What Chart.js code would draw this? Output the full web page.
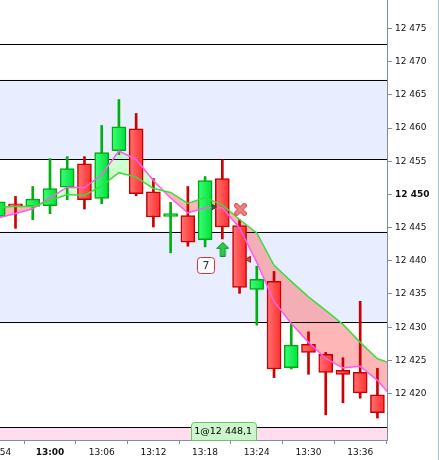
<!DOCTYPE html>
<html>
<head>
<meta charset="utf-8">
<script src="https://cdn.jsdelivr.net/npm/chart.js@4.4.0/dist/chart.umd.min.js"></script>
<style>
body { margin: 0; background: #fff; }
</style>
</head>
<body>
<canvas id="myChart" width="439" height="460"></canvas>
<script>
// 2 minute candles
const times = ['12:54', '12:56', '12:58', '13:00', '13:02', '13:04', '13:06', '13:08', '13:10', '13:12', '13:14', '13:16',
    '13:18', '13:20', '13:22', '13:24', '13:26', '13:28', '13:30', '13:32', '13:34', '13:36', '13:38'];
const opens = [12446.7, 12448.6, 12448.2, 12448.3, 12451.1, 12454.6, 12449.4, 12456.6, 12459.9, 12450.4, 12446.7, 12446.8,
    12443.2, 12452.4, 12445.3, 12435.7, 12436.9, 12423.9, 12427.4, 12425.9, 12423.5, 12423.2, 12419.8];
const highs = [12449.3, 12449.7, 12451.2, 12455.4, 12455.7, 12455.7, 12460.4, 12464.3, 12462.2, 12452.4, 12448.8, 12451.2,
    12452.7, 12455.2, 12446.2, 12439.2, 12438.4, 12430.5, 12429.3, 12426.2, 12425.4, 12433.9, 12423.8];
const lows = [12446.3, 12444.9, 12446.2, 12447.1, 12449.2, 12447.8, 12448.6, 12456.0, 12449.8, 12445.1, 12441.2, 12442.2,
    12442.1, 12443.3, 12435.1, 12430.3, 12422.4, 12423.7, 12422.9, 12416.8, 12418.6, 12419.3, 12416.3];
const closes = [12448.9, 12448.2, 12449.3, 12450.9, 12453.9, 12449.2, 12456.3, 12460.2, 12450.1, 12446.6, 12447.1, 12442.8,
    12452.1, 12445.1, 12436.0, 12437.2, 12423.7, 12427.3, 12426.2, 12423.2, 12422.9, 12420.1, 12417.1];

// averages (one extra point past the last candle)
const maTimes = times.concat(['13:40']);
const greenLine = [12448.12, 12448.19, 12448.19, 12449.10, 12450.00, 12449.85, 12451.28, 12453.28, 12452.61, 12450.90, 12450.30, 12448.64,
    12449.55, 12448.42, 12446.23, 12444.20, 12439.31, 12436.90, 12434.56, 12432.53, 12430.42, 12427.71, 12425.23, 12424.37];
const pinkLine = [12446.46, 12447.14, 12447.85, 12449.47, 12451.10, 12451.01, 12452.97, 12456.55, 12455.27, 12452.11, 12449.47, 12447.21,
    12448.00, 12448.00, 12444.95, 12439.76, 12433.89, 12430.57, 12427.71, 12425.30, 12423.87, 12424.10, 12421.99, 12419.02];

const xTickLabels = ['12:54', '13:00', '13:06', '13:12', '13:18', '13:24', '13:30', '13:36'];
const yTickValues = [12420, 12425, 12430, 12435, 12440, 12445, 12450, 12455, 12460, 12465, 12470, 12475];

const levelLines = [12472.7, 12467.3, 12455.3, 12444.4, 12430.8, 12414.9];
const blueBands = [[12455.3, 12467.3], [12430.8, 12444.4]];
const pinkBand = [12413.0, 12414.9];

const crossMark = { t: '13:22:05', v: 12447.73 };
const arrowMark = { t: '13:20:03', v: 12441.74 };
const leftTriMark = { t: '13:23:04', v: 12440.23 };
const rightTriMark = { t: '13:19:00', v: 12448.11 };
const countBox = { t: '13:18:06', v: 12439.27, text: '7' };
const orderLabel = { t: '13:20:06', text: '1@12 448,1' };

const FONT = 'DejaVu Sans';
const AXIS = '#7f8fa0';

function toMin(s) {
    const p = s.split(':').map(Number);
    return (p[0] - 12) * 60 + p[1] + (p[2] || 0) / 60;
}
function fmtMin(v) {
    const h = 12 + Math.floor(v / 60);
    const m = Math.round(v - (h - 12) * 60);
    return h + ':' + String(m).padStart(2, '0');
}
function fmtPrice(v) {
    const s = String(v);
    return s.slice(0, s.length - 3) + ' ' + s.slice(-3);
}

function makeCross() {
    const c = document.createElement('canvas');
    c.width = 13; c.height = 13;
    const g = c.getContext('2d');
    g.lineCap = 'round';
    g.beginPath();
    g.moveTo(2.5, 2.5); g.lineTo(10.5, 10.5);
    g.moveTo(10.5, 2.5); g.lineTo(2.5, 10.5);
    g.lineWidth = 5; g.strokeStyle = '#d25a5a'; g.stroke();
    g.lineWidth = 3; g.strokeStyle = '#f08080'; g.stroke();
    return c;
}
function makeArrow() {
    const c = document.createElement('canvas');
    c.width = 13; c.height = 15;
    const g = c.getContext('2d');
    g.beginPath();
    g.moveTo(6.5, 0.5); g.lineTo(12.5, 6.5); g.lineTo(9, 6.5); g.lineTo(9, 14.5);
    g.lineTo(4, 14.5); g.lineTo(4, 6.5); g.lineTo(0.5, 6.5); g.closePath();
    g.fillStyle = '#2ccc48'; g.fill();
    g.lineWidth = 1; g.strokeStyle = '#138a2a'; g.stroke();
    return c;
}

const isUp = times.map((t, i) => closes[i] >= opens[i]);

// body fill, lighter on the left side like the original
function bodyFill(c) {
    const i = c.dataIndex;
    const up = i !== undefined ? isUp[i] : false;
    const flat = up ? '#14ec4a' : '#ff4545';
    const xs = c.chart.scales && c.chart.scales.x;
    if (i === undefined || !xs) return flat;
    const px = xs.getPixelForValue(toMin(times[i]));
    if (!isFinite(px)) return flat;
    const g = c.chart.ctx.createLinearGradient(px - 7, 0, px + 7, 0);
    g.addColorStop(0, up ? '#3cff78' : '#ff7373');
    g.addColorStop(1, up ? '#00e03c' : '#ff2e2e');
    return g;
}

const levelsPlugin = {
    id: 'levels',
    beforeDraw(chart) {
        const { ctx, chartArea: a, scales: { y } } = chart;
        ctx.save();
        ctx.fillStyle = '#e8eeff';
        blueBands.forEach(b => {
            const y1 = y.getPixelForValue(b[1]), y2 = y.getPixelForValue(b[0]);
            ctx.fillRect(a.left, y1, a.right - a.left, y2 - y1);
        });
        ctx.fillStyle = '#ffdcee';
        const p1 = y.getPixelForValue(pinkBand[1]), p2 = y.getPixelForValue(pinkBand[0]);
        ctx.fillRect(a.left, p1, a.right - a.left, p2 - p1);
        ctx.restore();
    },
    beforeDatasetsDraw(chart) {
        const { ctx, chartArea: a, scales: { y } } = chart;
        ctx.save();
        ctx.strokeStyle = '#000';
        ctx.lineWidth = 1;
        levelLines.forEach(v => {
            const py = Math.round(y.getPixelForValue(v)) + 0.5;
            ctx.beginPath();
            ctx.moveTo(a.left, py);
            ctx.lineTo(a.right, py);
            ctx.stroke();
        });
        ctx.restore();
    },
    afterDraw(chart) {
        const { ctx, chartArea: a, scales: { x, y } } = chart;
        ctx.save();
        // count box
        const bx = x.getPixelForValue(toMin(countBox.t)), by = y.getPixelForValue(countBox.v);
        ctx.beginPath();
        ctx.roundRect(Math.round(bx - 9) + 0.5, Math.round(by - 8.5) + 0.5, 17, 16, 3);
        ctx.fillStyle = '#fff'; ctx.fill();
        ctx.strokeStyle = '#e03030'; ctx.lineWidth = 1; ctx.stroke();
        ctx.fillStyle = '#203040';
        ctx.font = '11px "' + FONT + '"';
        ctx.textAlign = 'center'; ctx.textBaseline = 'middle';
        ctx.fillText(countBox.text, bx, by + 0.5);
        // order label on the bottom
        const ox = x.getPixelForValue(toMin(orderLabel.t));
        ctx.beginPath();
        ctx.roundRect(Math.round(ox - 32.5) + 0.5, a.bottom - 17.5, 65, 18, [3, 3, 0, 0]);
        ctx.fillStyle = '#ccf5cc'; ctx.fill();
        ctx.strokeStyle = '#66c866'; ctx.stroke();
        ctx.fillStyle = '#000';
        ctx.font = '9.5px "' + FONT + '"';
        ctx.fillText(orderLabel.text, ox, a.bottom - 8.5);
        // outer border on the right
        ctx.strokeStyle = '#a4bccc';
        ctx.beginPath();
        ctx.moveTo(438.5, 0);
        ctx.lineTo(438.5, chart.height);
        ctx.stroke();
        ctx.restore();
    }
};

const ctx = document.getElementById('myChart').getContext('2d');
new Chart(ctx, {
    type: 'bar',
    data: {
        datasets: [
            {
                type: 'line',
                data: maTimes.map((t, i) => ({ x: toMin(t), y: greenLine[i] })),
                borderColor: '#3ddc3d',
                borderWidth: 1.5,
                pointRadius: 0,
                fill: false,
                clip: 0,
                order: 0
            },
            {
                type: 'line',
                data: maTimes.map((t, i) => ({ x: toMin(t), y: pinkLine[i] })),
                borderColor: '#ff5cf0',
                borderWidth: 1.5,
                pointRadius: 0,
                fill: { target: 0, above: 'rgba(130,255,130,0.38)', below: 'rgba(255,110,110,0.5)' },
                clip: 0,
                order: 1
            },
            {
                data: times.map((t, i) => ({ x: toMin(t), y: [lows[i], highs[i]] })),
                backgroundColor: isUp.map(u => u ? '#00b010' : '#cc0000'),
                borderWidth: 0,
                barThickness: 2,
                grouped: false,
                order: 3
            },
            {
                data: times.map((t, i) => ({ x: toMin(t), y: [opens[i], closes[i]] })),
                backgroundColor: bodyFill,
                borderColor: isUp.map(u => u ? '#00aa10' : '#c80000'),
                borderWidth: 1.5,
                borderSkipped: false,
                barThickness: 14,
                grouped: false,
                order: 2
            },
            {
                type: 'scatter',
                data: [{ x: toMin(crossMark.t), y: crossMark.v }],
                pointStyle: makeCross(),
                order: -1
            },
            {
                type: 'scatter',
                data: [{ x: toMin(arrowMark.t), y: arrowMark.v }],
                pointStyle: makeArrow(),
                order: -1
            },
            {
                type: 'scatter',
                data: [{ x: toMin(leftTriMark.t), y: leftTriMark.v }],
                pointStyle: 'triangle',
                rotation: -90,
                radius: 3.5,
                backgroundColor: '#e04444',
                borderColor: '#b02020',
                borderWidth: 1,
                order: -1
            },
            {
                type: 'scatter',
                data: [{ x: toMin(rightTriMark.t), y: rightTriMark.v }],
                pointStyle: 'triangle',
                rotation: 90,
                radius: 3,
                backgroundColor: '#2d6a2d',
                borderColor: '#1d4a1d',
                borderWidth: 1,
                order: -1
            }
        ]
    },
    options: {
        responsive: false,
        animation: false,
        layout: { padding: 0, autoPadding: false },
        plugins: {
            legend: { display: false },
            tooltip: { enabled: false },
            filler: { propagate: false, drawTime: 'beforeDatasetsDraw' }
        },
        scales: {
            x: {
                type: 'linear',
                position: 'bottom',
                offset: false,
                min: 54.2,
                max: 99.11,
                afterBuildTicks: s => { s.ticks = xTickLabels.map(l => ({ value: toMin(l) })); },
                afterFit: s => {
                    s.height = 20;
                    s.paddingLeft = 0; s.paddingRight = 0; s.paddingTop = 0; s.paddingBottom = 0;
                },
                ticks: {
                    autoSkip: false,
                    maxRotation: 0,
                    padding: 3,
                    color: '#111',
                    font: c => ({ family: FONT, size: 9, weight: c.tick && c.tick.value === 60 ? 'bold' : 'normal' }),
                    callback: v => fmtMin(v)
                },
                grid: { drawOnChartArea: false, tickLength: 4, tickColor: AXIS },
                border: { color: AXIS }
            },
            y: {
                position: 'right',
                min: 12413.0,
                max: 12479.3,
                afterBuildTicks: s => { s.ticks = yTickValues.map(v => ({ value: v })); },
                afterFit: s => {
                    s.width = 52;
                    s.paddingLeft = 0; s.paddingRight = 0; s.paddingTop = 0; s.paddingBottom = 0;
                },
                ticks: {
                    padding: 3,
                    color: '#111',
                    font: c => ({ family: FONT, size: 9, weight: c.tick && c.tick.value === 12450 ? 'bold' : 'normal' }),
                    callback: v => fmtPrice(v)
                },
                grid: { drawOnChartArea: false, tickLength: 5, tickColor: AXIS },
                border: { color: AXIS }
            }
        }
    },
    plugins: [levelsPlugin]
});
</script>
</body>
</html>
